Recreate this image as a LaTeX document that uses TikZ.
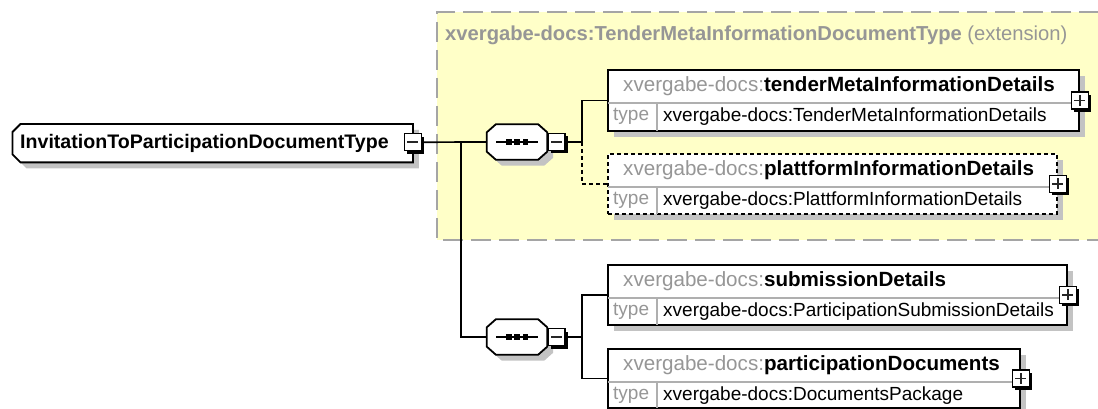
\documentclass[tikz,border=0pt]{standalone}
\usepackage{fontspec}
\setmainfont{Liberation Sans}
\usetikzlibrary{calc,shadows}
\definecolor{ylw}{RGB}{255,255,200}
\definecolor{ybd}{RGB}{165,165,165}
\definecolor{pgray}{RGB}{150,150,150}
\definecolor{shd}{RGB}{195,195,195}
\definecolor{sepc}{RGB}{175,175,175}
\tikzset{
  conn/.style={line width=1.7pt, black},
  shd6/.style={drop shadow={shadow xshift=6pt, shadow yshift=-6pt, fill=shd, opacity=1}},
  elbox/.style={rectangle, anchor=north west, inner sep=0pt, draw=black, line width=1.8pt, fill=white, shd6},
  sepline/.style={draw=sepc, line width=1.1pt},
  hdtext/.style={anchor=west, inner sep=0pt, font=\fontsize{20.6}{24}\selectfont},
  tytext/.style={anchor=west, inner sep=0pt, font=\fontsize{19}{22}\selectfont},
  togbox/.style={rectangle, draw=black, line width=1.6pt, fill=white, minimum size=17pt, inner sep=0pt,
    drop shadow={shadow xshift=3pt, shadow yshift=-3pt, fill=black, opacity=1}},
  sign/.style={black!85, line width=1.5pt},
  ghost/.style={rectangle, inner sep=0pt},
  outline/.style={draw=black, line width=1.8pt, fill=white, shd6},
  seqnode/.style={ghost, minimum width=60pt, minimum height=35pt},
}
\newcommand\xelem[8]{%
  \node[elbox, #8, minimum width=#4pt, minimum height=#5pt] (#1) at (#2,#3) {};
  \draw[sepline] ($(#1.north west)+(1,34)$) -- ($(#1.north east)+(-1,34)$);
  \draw[sepline] ($(#1.north west)+(50,34)$) -- ($(#1.south west)+(50,-1)$);
  \node[hdtext] (#1-h) at ($(#1.north west)+(16,17)$) {\textcolor{pgray}{xvergabe-docs:}\textbf{#6}};
  \node[tytext, text=pgray] (#1-t) at ($(#1.north west)+(6,47.5)$) {type};
  \node[tytext] (#1-v) at ($(#1.north west)+(56,47.5)$) {xvergabe-docs:#7};
  \node[togbox] (#1-p) at (#1.east) {};
  \draw[sign] ($(#1-p.center)+(-5.5,0)$) -- ($(#1-p.center)+(5.5,0)$);
  \draw[sign] ($(#1-p.center)+(0,-5.5)$) -- ($(#1-p.center)+(0,5.5)$);
}
\newcommand\seqdraw[1]{%
  \path[outline] ($(#1.north west)+(9,0)$) -- ($(#1.north east)+(-9,0)$) -- ($(#1.north east)+(0,8)$)
    -- ($(#1.south east)+(0,-8)$) -- ($(#1.south east)+(-9,0)$) -- ($(#1.south west)+(9,0)$)
    -- ($(#1.south west)+(0,-8)$) -- ($(#1.north west)+(0,8)$) -- cycle;
  \draw[conn] ($(#1.center)+(-21,0)$) -- ($(#1.center)+(21,0)$);
  \fill[black] ($(#1.center)+(-11,-2.8)$) rectangle ($(#1.center)+(-5.5,2.8)$);
  \fill[black] ($(#1.center)+(-2.8,-2.8)$) rectangle ($(#1.center)+(2.8,2.8)$);
  \fill[black] ($(#1.center)+(5.5,-2.8)$) rectangle ($(#1.center)+(11,2.8)$);
}
\newcommand\minussign[1]{\draw[sign] ($(#1.center)+(-5.5,0)$) -- ($(#1.center)+(5.5,0)$);}
\begin{document}
\begin{tikzpicture}[x=1pt,y=-1pt]
\useasboundingbox (0,0) rectangle (1098,409);
% extension group
\fill[ylw] (437,12) rectangle (1099,240);
\draw[ybd, line width=1.6pt, dash pattern=on 20pt off 8pt] (1099,12) -- (437,12) -- (437,240) -- (1099,240);
\node[anchor=west, inner sep=0pt, text=pgray, font=\fontsize{20.2}{24}\selectfont] (title) at (445,35)
  {\textbf{xvergabe-docs:TenderMetaInformationDocumentType} (extension)};
% root
\node[ghost, anchor=north west, minimum width=400pt, minimum height=38pt] (root) at (12.5,124) {};
\path[outline] ($(root.north west)+(8,0)$) -- (root.north east) -- (root.south east)
  -- ($(root.south west)+(8,0)$) -- ($(root.south west)+(0,-8)$) -- ($(root.north west)+(0,8)$) -- cycle;
\node[anchor=west, inner sep=0pt, font=\fontsize{19.6}{23}\selectfont\bfseries] (roottxt) at (20,143)
  {InvitationToParticipationDocumentType};
\node[togbox] (rootm) at ($(root.east)+(0,-1)$) {};
\minussign{rootm}
% sequences
\node[seqnode] (seq1) at (517,142) {};
\seqdraw{seq1}
\node[togbox, anchor=west] (s1m) at (seq1.east) {};
\minussign{s1m}
\node[seqnode] (seq2) at (517,337) {};
\seqdraw{seq2}
\node[togbox, anchor=west] (s2m) at (seq2.east) {};
\minussign{s2m}
% elements
\xelem{tender}{607}{69}{471}{61}{tenderMetaInformationDetails}{TenderMetaInformationDetails}{}
\xelem{platt}{607}{153}{449}{60}{plattformInformationDetails}{PlattformInformationDetails}{dashed, dash pattern=on 4pt off 3pt}
\xelem{sub}{607}{264}{459}{60}{submissionDetails}{ParticipationSubmissionDetails}{}
\xelem{part}{607}{348}{412}{59}{participationDocuments}{DocumentsPackage}{}
% connectors
\coordinate (j) at (461,142);
\coordinate (b1) at (582,142);
\coordinate (b2) at (582,337);
\draw[conn] (rootm.east) -- (seq1.west);
\draw[conn] (j) |- (seq2.west);
\draw[conn] (s1m.east) -- (b1) |- (tender.west);
\draw[conn, dash pattern=on 4pt off 3pt] (b1) |- (platt.west);
\draw[conn] (s2m.east) -- (b2) |- (sub.west);
\draw[conn] (b2) |- (part.west);
\end{tikzpicture}
\end{document}
